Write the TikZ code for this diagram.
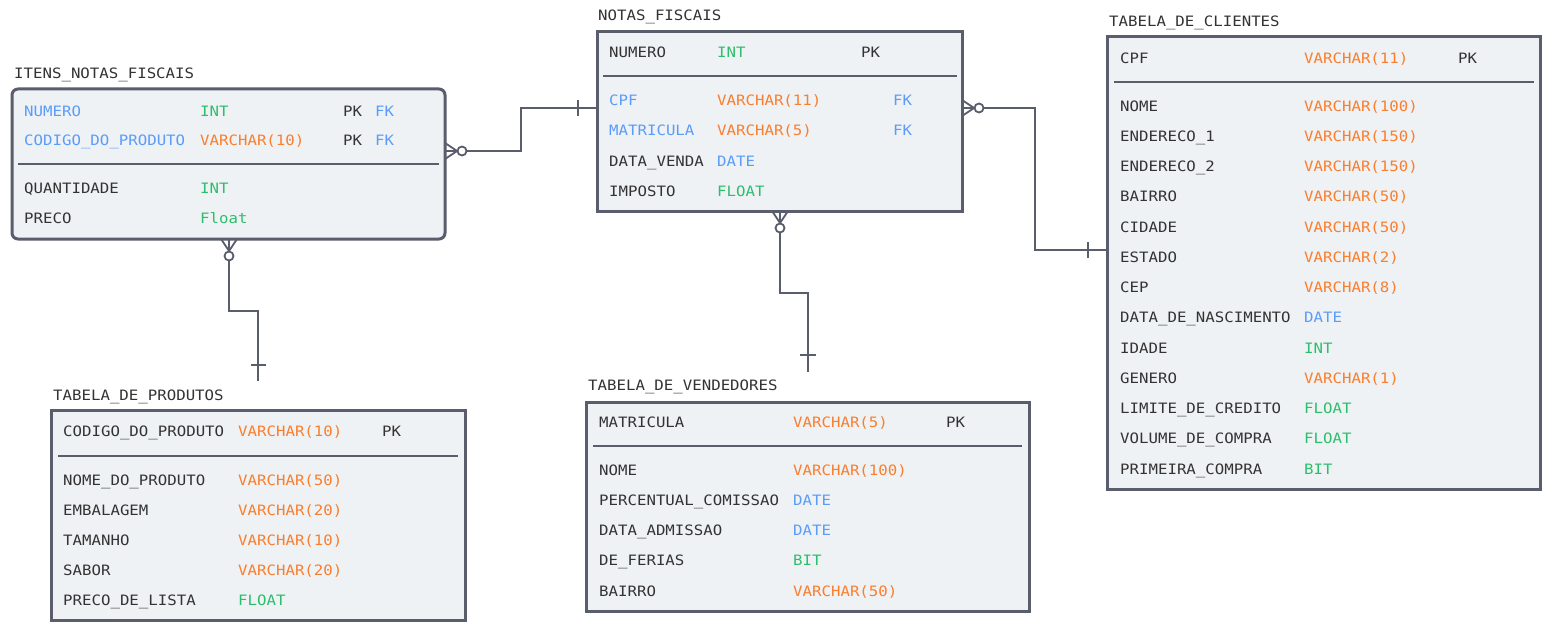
\documentclass[tikz,border=0pt]{standalone}
\usepackage{fontspec}
\newfontfamily\mono[FakeStretch=1.1]{DejaVu Sans Mono}
\newcommand\fsz{\mono\fontsize{14.3pt}{17pt}\selectfont}
\usetikzlibrary{calc}
\definecolor{bd}{HTML}{5A5D6B}
\definecolor{fillc}{HTML}{EFF2F5}
\definecolor{dk}{HTML}{333333}
\definecolor{bl}{HTML}{5A9CF8}
\definecolor{gr}{HTML}{2DBE6C}
\definecolor{orc}{HTML}{FA7E2D}
\begin{document}
\begin{tikzpicture}[x=1pt,y=-1pt,
 tbl/.style={draw=bd, fill=fillc, line width=3pt, inner sep=0pt, outer sep=0pt, anchor=north west},
 sepl/.style={draw=bd, line width=1.6pt},
 fld/.style={anchor=base west, inner sep=0pt, font=\fsz, text=dk},
 conn/.style={draw=bd, line width=1.8pt},
 zmany/.pic={\draw[conn] (0,-8) -- (12,0) -- (0,8) (0,0) -- (12,0); \draw[conn] (17,0) circle[radius=4.5pt];}
]
\useasboundingbox (0,0) rectangle (1551,623);
\fill[white] (0,0) rectangle (1551,623);

% ---------- tables ----------
\node[tbl, rounded corners=6pt, minimum width=433pt, minimum height=150pt] (itens) at (12,89) {};
\node[tbl, minimum width=365pt, minimum height=179pt] (notas) at (597,32) {};
\node[tbl, minimum width=433pt, minimum height=452pt] (clientes) at (1107,37) {};
\node[tbl, minimum width=414pt, minimum height=210pt] (produtos) at (51,410) {};
\node[tbl, minimum width=443pt, minimum height=209pt] (vendedores) at (586,402) {};

% ---------- titles ----------
\node[fld] (t-itens) at (14,78.2) {ITENS\_NOTAS\_FISCAIS};
\node[fld] (t-notas) at (598,20.2) {NOTAS\_FISCAIS};
\node[fld] (t-clientes) at (1109,26.2) {TABELA\_DE\_CLIENTES};
\node[fld] (t-produtos) at (53,400.2) {TABELA\_DE\_PRODUTOS};
\node[fld] (t-vendedores) at (588,390.2) {TABELA\_DE\_VENDEDORES};

% ---------- ITENS_NOTAS_FISCAIS ----------
\node[fld,text=bl] (i-a1) at (24,116.2) {NUMERO};
\node[fld,text=gr] (i-b1) at (200,116.2) {INT};
\node[fld] (i-c1) at (343,116.2) {PK};
\node[fld,text=bl] (i-d1) at (375,116.2) {FK};
\node[fld,text=bl] (i-a2) at (24,145.2) {CODIGO\_DO\_PRODUTO};
\node[fld,text=orc] (i-b2) at (200,145.2) {VARCHAR(10)};
\node[fld] (i-c2) at (343,145.2) {PK};
\node[fld,text=bl] (i-d2) at (375,145.2) {FK};
\draw[sepl] (18,164) -- (439,164);
\node[fld] (i-a3) at (24,193.2) {QUANTIDADE};
\node[fld,text=gr] (i-b3) at (200,193.2) {INT};
\node[fld] (i-a4) at (24,223.2) {PRECO};
\node[fld,text=gr] (i-b4) at (200,223.2) {Float};

% ---------- NOTAS_FISCAIS ----------
\node[fld] (n-a1) at (609,57.2) {NUMERO};
\node[fld,text=gr] (n-b1) at (717,57.2) {INT};
\node[fld] (n-c1) at (861,57.2) {PK};
\draw[sepl] (603,76) -- (957,76);
\node[fld,text=bl] (n-a2) at (609,105.2) {CPF};
\node[fld,text=orc] (n-b2) at (717,105.2) {VARCHAR(11)};
\node[fld,text=bl] (n-d2) at (893,105.2) {FK};
\node[fld,text=bl] (n-a3) at (609,135.2) {MATRICULA};
\node[fld,text=orc] (n-b3) at (717,135.2) {VARCHAR(5)};
\node[fld,text=bl] (n-d3) at (893,135.2) {FK};
\node[fld] (n-a4) at (609,166.2) {DATA\_VENDA};
\node[fld,text=bl] (n-b4) at (717,166.2) {DATE};
\node[fld] (n-a5) at (609,196.2) {IMPOSTO};
\node[fld,text=gr] (n-b5) at (717,196.2) {FLOAT};

% ---------- TABELA_DE_CLIENTES ----------
\node[fld] (c-a0) at (1120,63.2) {CPF};
\node[fld,text=orc] (c-b0) at (1304,63.2) {VARCHAR(11)};
\node[fld] (c-c0) at (1458,63.2) {PK};
\draw[sepl] (1114,82) -- (1534,82);
\foreach \a/\b/\c [count=\k] in {NOME/VARCHAR(100)/orc, ENDERECO\_1/VARCHAR(150)/orc, ENDERECO\_2/VARCHAR(150)/orc, BAIRRO/VARCHAR(50)/orc, CIDADE/VARCHAR(50)/orc, ESTADO/VARCHAR(2)/orc, CEP/VARCHAR(8)/orc, DATA\_DE\_NASCIMENTO/DATE/bl, IDADE/INT/gr, GENERO/VARCHAR(1)/orc, LIMITE\_DE\_CREDITO/FLOAT/gr, VOLUME\_DE\_COMPRA/FLOAT/gr, PRIMEIRA\_COMPRA/BIT/gr}{
  \node[fld] (c-a\k) at (1120,{106+30.25*(\k-1)+5.2}) {\a};
  \node[fld,text=\c] (c-b\k) at (1304,{106+30.25*(\k-1)+5.2}) {\b};
}

% ---------- TABELA_DE_PRODUTOS ----------
\node[fld] (p-a0) at (63,436.2) {CODIGO\_DO\_PRODUTO};
\node[fld,text=orc] (p-b0) at (238,436.2) {VARCHAR(10)};
\node[fld] (p-c0) at (382,436.2) {PK};
\draw[sepl] (58,456) -- (458,456);
\foreach \a/\b/\c [count=\k] in {NOME\_DO\_PRODUTO/VARCHAR(50)/orc, EMBALAGEM/VARCHAR(20)/orc, TAMANHO/VARCHAR(10)/orc, SABOR/VARCHAR(20)/orc, PRECO\_DE\_LISTA/FLOAT/gr}{
  \node[fld] (p-a\k) at (63,{480+30*(\k-1)+5.2}) {\a};
  \node[fld,text=\c] (p-b\k) at (238,{480+30*(\k-1)+5.2}) {\b};
}

% ---------- TABELA_DE_VENDEDORES ----------
\node[fld] (v-a0) at (599,427.2) {MATRICULA};
\node[fld,text=orc] (v-b0) at (793,427.2) {VARCHAR(5)};
\node[fld] (v-c0) at (946,427.2) {PK};
\draw[sepl] (593,446) -- (1022,446);
\foreach \a/\b/\c [count=\k] in {NOME/VARCHAR(100)/orc, PERCENTUAL\_COMISSAO/DATE/bl, DATA\_ADMISSAO/DATE/bl, DE\_FERIAS/BIT/gr, BAIRRO/VARCHAR(50)/orc}{
  \node[fld] (v-a\k) at (599,{470+30.25*(\k-1)+5.2}) {\a};
  \node[fld,text=\c] (v-b\k) at (793,{470+30.25*(\k-1)+5.2}) {\b};
}

% ---------- connectors ----------
% ITENS -> NOTAS
\pic at (itens.east |- 0,151) {zmany};
\draw[conn] ($(itens.east |- 0,151)+(21.5,0)$) -- (521,151) |- (notas.west |- 0,108);
\draw[conn] (578,100) -- (578,116);
% NOTAS -> CLIENTES
\pic at (notas.east |- 0,108) {zmany};
\draw[conn] ($(notas.east |- 0,108)+(21.5,0)$) -- (1035,108) |- (clientes.west |- 0,250);
\draw[conn] (1088,242) -- (1088,258);
% ITENS -> PRODUTOS
\coordinate (e3) at (258,381);
\pic[rotate=-90] at (itens.south -| 229,0) {zmany};
\draw[conn] ($(itens.south -| 229,0)+(0,21.5)$) -- (229,311) -| (e3);
\draw[conn] (251,365) -- (266,365);
% NOTAS -> VENDEDORES
\coordinate (e4) at (808,372);
\pic[rotate=-90] at (notas.south -| 780,0) {zmany};
\draw[conn] ($(notas.south -| 780,0)+(0,21.5)$) -- (780,293) -| (e4);
\draw[conn] (800,355) -- (816,355);
\end{tikzpicture}
\end{document}
